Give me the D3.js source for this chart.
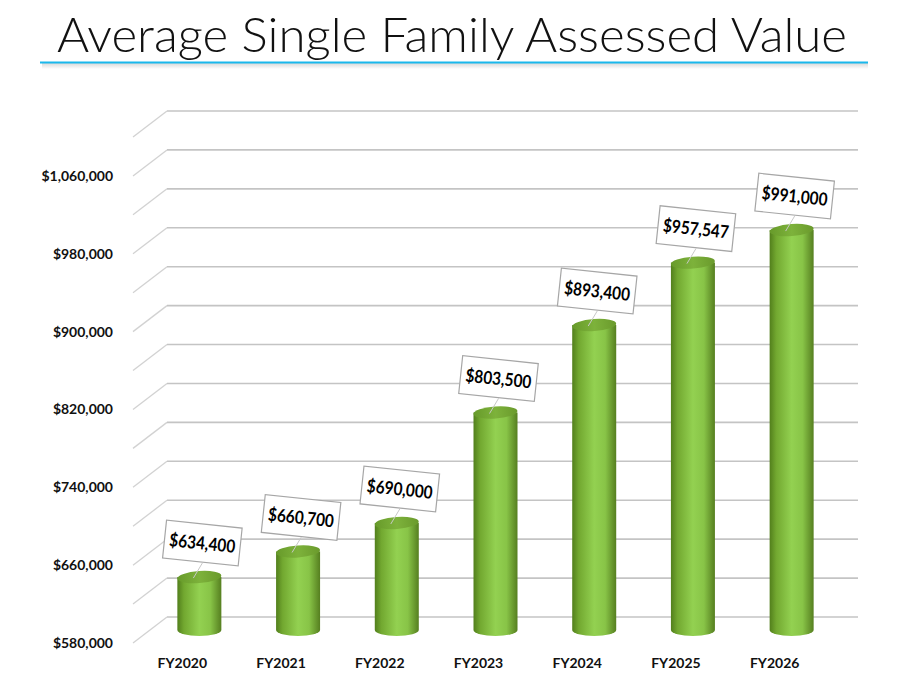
<!DOCTYPE html>
<html>
<head>
<meta charset="utf-8">
<script src="https://cdn.jsdelivr.net/npm/d3@7/dist/d3.min.js"></script>
<style>
  body { margin: 0; background: #fff; }
  svg { display: block; }
</style>
</head>
<body>
<div id="chart"></div>
<script>
// chart data
const categories = ["FY2020", "FY2021", "FY2022", "FY2023", "FY2024", "FY2025", "FY2026"]
const values = [634400, 660700, 690000, 803500, 893400, 957547, 991000]
const valueLabels = ["$634,400", "$660,700", "$690,000", "$803,500", "$893,400", "$957,547", "$991,000"]
const gridValues = d3.range(580000, 1100001, 40000)
const tickValues = [580000, 660000, 740000, 820000, 900000, 980000, 1060000]

const width = 902, height = 694

// 3d depth offset (back wall -> front edge)
const dx = -34, dy = 26

const svg = d3.select("#chart")
  .append("svg")
    .attr("width", width)
    .attr("height", height)

const defs = svg.append("defs")

const bodyGrad = defs.append("linearGradient").attr("id", "body")
bodyGrad.selectAll("stop")
  .data([[0, "#527f1c"], [0.15, "#72a830"], [0.5, "#93d151"], [0.75, "#88c447"], [1, "#567f20"]])
  .enter().append("stop")
    .attr("offset", d => d[0])
    .attr("stop-color", d => d[1])

const topGrad = defs.append("linearGradient").attr("id", "top")
topGrad.selectAll("stop")
  .data([[0, "#679a2a"], [0.5, "#7db23b"], [1, "#6a9a2c"]])
  .enter().append("stop")
    .attr("offset", d => d[0])
    .attr("stop-color", d => d[1])

const shadow = defs.append("linearGradient").attr("id", "shadow").attr("x1", 0).attr("x2", 0).attr("y1", 0).attr("y2", 1)
shadow.append("stop").attr("offset", 0).attr("stop-color", "#d8d8d8")
shadow.append("stop").attr("offset", 1).attr("stop-color", "#ffffff")

// title
svg.append("text")
  .attr("x", 452)
  .attr("y", 52)
  .attr("text-anchor", "middle")
  .attr("font-family", "Lato, 'Open Sans', sans-serif")
  .attr("font-weight", 300)
  .attr("font-size", 48)
  .attr("textLength", 790)
  .attr("lengthAdjust", "spacingAndGlyphs")
  .attr("fill", "#111")
  .text("Average Single Family Assessed Value")

svg.append("rect")
  .attr("x", 42).attr("y", 63).attr("width", 826).attr("height", 6)
  .attr("fill", "url(#shadow)")
svg.append("line")
  .attr("x1", 40).attr("x2", 868).attr("y1", 62.5).attr("y2", 62.5)
  .attr("stroke", "#1ab8ec").attr("stroke-width", 2)

// scales (y on the back wall)
const y = d3.scaleLinear().domain([580000, 1100000]).range([617, 111])
const x = d3.scaleBand().domain(categories).range([167, 858]).paddingInner(0).paddingOuter(0)

// gridlines: back wall + left side diagonal
const grid = svg.append("g")
grid.selectAll(".back")
  .data(gridValues)
  .enter().append("line")
    .attr("x1", x.range()[0]).attr("x2", x.range()[1])
    .attr("y1", d => y(d)).attr("y2", d => y(d))
    .attr("stroke", "#c4c4c4").attr("stroke-width", 1.6)
grid.selectAll(".side")
  .data(gridValues)
  .enter().append("line")
    .attr("x1", x.range()[0]).attr("x2", x.range()[0] + dx)
    .attr("y1", d => y(d)).attr("y2", d => y(d) + dy)
    .attr("stroke", "#d2d2d2").attr("stroke-width", 1.3)

// y axis at the front edge
const yFront = y.copy().range(y.range().map(v => v + dy))
const yAxis = svg.append("g")
  .attr("transform", `translate(${x.range()[0] + dx - 17},0)`)
  .call(d3.axisLeft(yFront).tickValues(tickValues).tickSize(0).tickFormat(d => "$" + d3.format(",")(d)))
yAxis.select(".domain").remove()
yAxis.selectAll("text")
  .attr("font-family", "Lato, sans-serif")
  .attr("font-weight", 700)
  .attr("font-size", 14)
  .attr("fill", "#111")

// x axis at the front edge
const xAxis = svg.append("g")
  .attr("transform", `translate(${dx},${y(580000) + dy + 12})`)
  .call(d3.axisBottom(x).tickSize(0))
xAxis.select(".domain").remove()
xAxis.selectAll("text")
  .attr("font-family", "Lato, sans-serif")
  .attr("font-weight", 700)
  .attr("font-size", 14)
  .attr("fill", "#111")

// cylinders sit at middle depth
const bw = 44, ry = 6
const cx = d => x(d) + x.bandwidth() / 2 + dx / 2
const cy = v => y(v) + dy / 2
const data = categories.map((c, i) => ({ c, v: values[i], label: valueLabels[i] }))

const bars = svg.selectAll(".bar")
  .data(data)
  .enter().append("g")

bars.append("path")
  .attr("d", d => {
    const l = cx(d.c) - bw / 2, r = cx(d.c) + bw / 2
    const t = cy(d.v), b = cy(580000)
    return `M${l},${t} L${l},${b} A${bw / 2},${ry} 0 0 0 ${r},${b} L${r},${t} Z`
  })
  .attr("fill", "url(#body)")

bars.append("ellipse")
  .attr("cx", d => cx(d.c))
  .attr("cy", d => cy(d.v))
  .attr("rx", bw / 2)
  .attr("ry", ry)
  .attr("transform", d => `rotate(-4,${cx(d.c)},${cy(d.v)})`)
  .attr("fill", "url(#top)")

// leader lines + data labels
bars.append("line")
  .attr("x1", d => cx(d.c) - 6).attr("y1", d => cy(d.v) + 1)
  .attr("x2", d => cx(d.c) + 3).attr("y2", d => cy(d.v) - 14)
  .attr("stroke", "#c8c8c8").attr("stroke-width", 1)

const lab = bars.append("g")
  .attr("transform", d => `translate(${cx(d.c) + 3},${cy(d.v) - 34}) rotate(6)`)

lab.append("rect")
  .attr("x", -38).attr("y", -19).attr("width", 76).attr("height", 38)
  .attr("fill", "#fff")
  .attr("stroke", "#a6a6a6").attr("stroke-width", 1.2)

lab.append("text")
  .attr("text-anchor", "middle")
  .attr("dy", "0.36em")
  .attr("font-family", "Lato, sans-serif")
  .attr("font-weight", 700)
  .attr("font-size", 18)
  .attr("textLength", 66)
  .attr("lengthAdjust", "spacingAndGlyphs")
  .attr("fill", "#000")
  .text(d => d.label)
</script>
</body>
</html>
